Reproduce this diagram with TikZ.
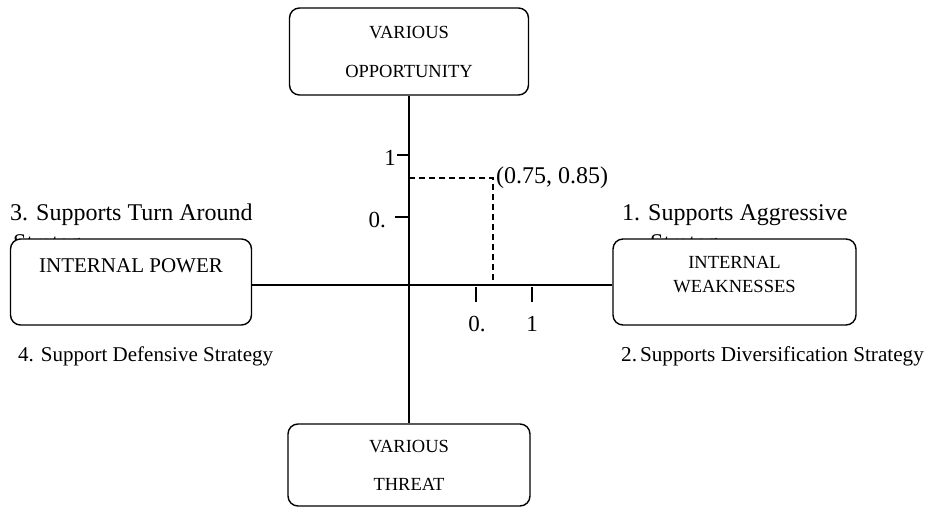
\documentclass[tikz,border=0pt]{standalone}
\usepackage{fontspec}
\setmainfont{Liberation Serif}
\usetikzlibrary{positioning}

\tikzset{
	panel/.style={draw, fill=white, rounded corners=10pt, line width=1.4pt, inner sep=0pt, align=center, font=\fontsize{18.5}{20}\selectfont},
	axisline/.style={line width=2.2pt},
	tickline/.style={line width=1.5pt},
	guideline/.style={line width=1.3pt, dash pattern=on 6pt off 4pt},
	quadtext/.style={anchor=base west, inner sep=0pt, align=left, font=\fontsize{24}{30}\selectfont},
	lowtext/.style={anchor=base west, inner sep=0pt, font=\fontsize{21}{24}\selectfont},
	axislabel/.style={inner sep=0pt, font=\fontsize{23}{26}\selectfont}
}

\begin{document}
\begin{tikzpicture}[x=1pt,y=-1pt]
	\useasboundingbox (0,0) rectangle (931,508);
	\node[quadtext] (turn) at (10,250) {3. Supports Turn Around\\\hspace{3pt}Strategy};
	\node[quadtext] (aggr) at (622,250) {1. Supports Aggressive\\\hspace{28pt}Strategy};
	\node[lowtext] (defn) at (18,361) {4. Support Defensive Strategy};
	\node[lowtext, font=\fontsize{21.2}{24}\selectfont] (divr) at (621,361) {2.\kern3pt Supports Diversification Strategy};
	\node[panel, minimum width=239pt, minimum height=87pt] (opp) at (409,51.5) {VARIOUS\\[19pt]OPPORTUNITY};
	\node[panel, minimum width=242pt, minimum height=82pt] (threat) at (409,465) {VARIOUS\\[18pt]THREAT};
	\node[panel, minimum width=241pt, minimum height=86pt, text depth=32pt, font=\fontsize{21}{24}\selectfont] (power) at (131,282) {INTERNAL POWER};
	\node[panel, minimum width=243pt, minimum height=86pt, text depth=16pt] (weak) at (734.5,282) {INTERNAL\\[4pt]WEAKNESSES};
	\coordinate (o) at (409,285);
	\draw[axisline] (opp.south) -- (threat.north);
	\draw[axisline] (power.east |- o) -- (weak.west |- o);
	\draw[tickline] (397,155) -- (409,155);
	\node[axislabel, anchor=base east] (ya) at (396,165) {1};
	\draw[tickline] (395,217) -- (408,217);
	\node[axislabel, anchor=base east] (yb) at (386,227) {0.};
	\draw[tickline] (476,287) -- (476,302);
	\node[axislabel, anchor=base] (xa) at (477,331) {0.};
	\draw[tickline] (532,287) -- (532,302);
	\node[axislabel, anchor=base] (xb) at (532,331) {1};
	\coordinate (pt) at (493,178);
	\draw[guideline] (o |- pt) -- (pt) -- (pt |- o);
	\node[axislabel, anchor=west, inner sep=3pt, font=\fontsize{24}{26}\selectfont] (ptlabel) at (pt) {(0.75, 0.85)};
\end{tikzpicture}
\end{document}
